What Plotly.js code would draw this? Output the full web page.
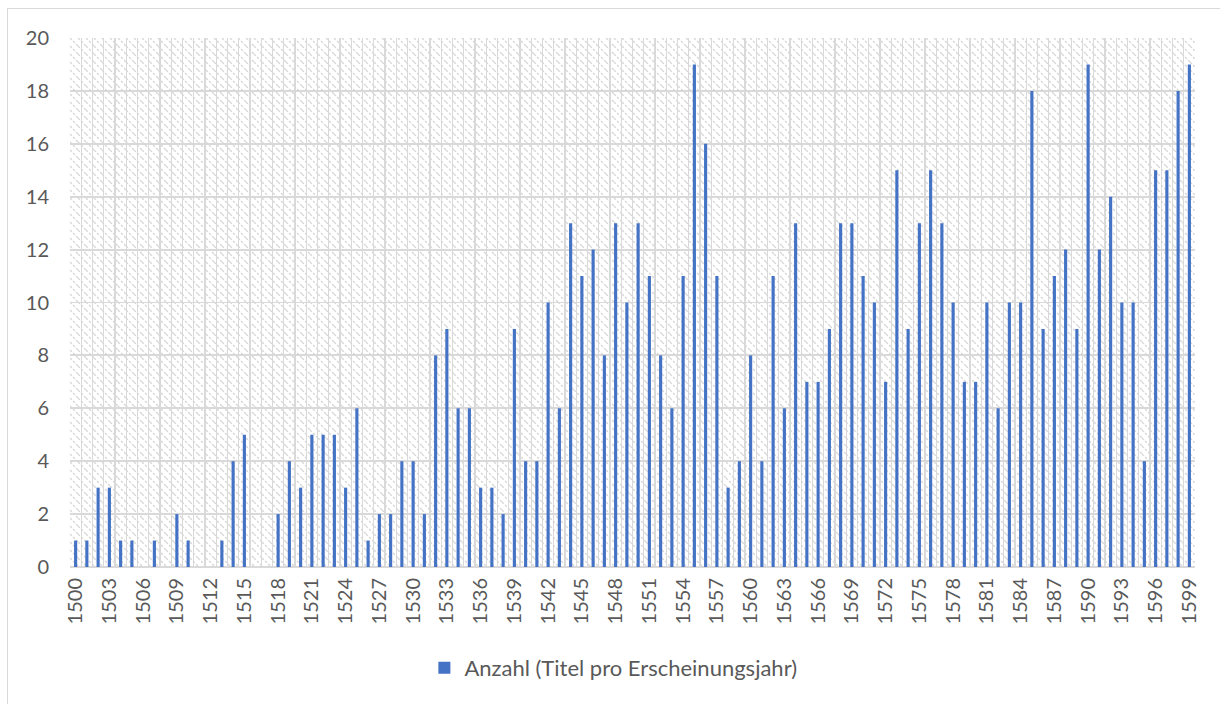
<!DOCTYPE html>
<html>
<head>
<meta charset="utf-8">
<script src="https://cdn.plot.ly/plotly-3.0.1.min.js"></script>
<style>
  html, body { margin: 0; padding: 0; background: #ffffff; }
  #wrap { position: relative; width: 1220px; height: 704px; }
  #chart { width: 1220px; height: 704px; }
  #frame { position: absolute; left: 7px; top: 8px; width: 1300px; height: 800px;
           border-left: 1px solid #d9d9d9; border-top: 1px solid #d9d9d9; pointer-events: none; }
</style>
</head>
<body>
<div id="wrap">
  <div id="chart"></div>
  <div id="frame"></div>
</div>
<script>
// Years (categories)
const years = [];
for (let y = 1500; y <= 1599; y++) years.push(y);

// Number of titles per year of publication
const counts = [
  1, 1, 3, 3, 1, 1, 0, 1, 0, 2,      // 1500-1509
  1, 0, 0, 1, 4, 5, 0, 0, 2, 4,      // 1510-1519
  3, 5, 5, 5, 3, 6, 1, 2, 2, 4,      // 1520-1529
  4, 2, 8, 9, 6, 6, 3, 3, 2, 9,      // 1530-1539
  4, 4, 10, 6, 13, 11, 12, 8, 13, 10, // 1540-1549
  13, 11, 8, 6, 11, 19, 16, 11, 3, 4, // 1550-1559
  8, 4, 11, 6, 13, 7, 7, 9, 13, 13,  // 1560-1569
  11, 10, 7, 15, 9, 13, 15, 13, 10, 7, // 1570-1579
  7, 10, 6, 10, 10, 18, 9, 11, 12, 9, // 1580-1589
  19, 12, 14, 10, 10, 4, 15, 15, 18, 19 // 1590-1599
];

const seriesName = "Anzahl (Titel pro Erscheinungsjahr)";

// Tick labels every third year
const xTickVals = [];
for (let y = 1500; y <= 1599; y += 3) xTickVals.push(y);
const xTickText = xTickVals.map(String);

// Category boundaries for vertical gridlines
const boundaries = [];
for (let y = 1499.5; y <= 1599.5; y += 1) boundaries.push(y);

const plotW = 1125, plotH = 529;
const svg = `<svg xmlns="http://www.w3.org/2000/svg" width="${plotW}" height="${plotH}" viewBox="0 0 ${plotW} ${plotH}" preserveAspectRatio="none">
<defs><pattern id="p" width="8" height="8" patternUnits="userSpaceOnUse">
<path d="M0,0 L8,8 M-4,4 L0,8 M4,-4 L8,0" stroke="#d8d8d8" stroke-width="1.5" stroke-dasharray="2.5,1.8"/>
</pattern></defs>
<rect width="100%" height="100%" fill="#ffffff"/>
<rect width="100%" height="100%" fill="url(#p)"/>
</svg>`;
const bgSrc = "data:image/svg+xml;charset=utf-8," + encodeURIComponent(svg);

const fontFam = "Lato, 'Open Sans', sans-serif";

const trace = {
  type: "bar",
  x: years,
  y: counts,
  name: seriesName,
  marker: { color: "#4472C4" },
  showlegend: true,
  hoverinfo: "x+y"
};

const layout = {
  width: 1220,
  height: 704,
  margin: { l: 70, r: 25, t: 38, b: 137 },
  paper_bgcolor: "#ffffff",
  plot_bgcolor: "rgba(0,0,0,0)",
  bargap: 0.72,
  font: { family: fontFam, size: 20, color: "#595959" },
  xaxis: {
    type: "linear",
    range: [1499.5, 1599.5],
    tickmode: "array",
    tickvals: xTickVals,
    ticktext: xTickText,
    tickangle: -90,
    showgrid: false,
    zeroline: false,
    showline: false,
    ticks: "",
    ticklabelstandoff: 6,
    tickfont: { family: fontFam, size: 20, color: "#595959" },
    minor: { tickmode: "array", tickvals: boundaries, showgrid: true, gridcolor: "#d9d9d9", gridwidth: 1.4, ticks: "" }
  },
  yaxis: {
    range: [0, 20],
    dtick: 2,
    tick0: 0,
    showgrid: true,
    gridcolor: "#d9d9d9",
    gridwidth: 1.8,
    zeroline: true,
    zerolinecolor: "#d9d9d9",
    zerolinewidth: 1.8,
    showline: false,
    ticks: "",
    ticklabelstandoff: 20,
    tickfont: { family: fontFam, size: 20, color: "#595959" }
  },
  legend: {
    orientation: "h",
    x: 0.483, xanchor: "center",
    y: -0.191, yanchor: "middle",
    font: { family: fontFam, size: 22, color: "#595959" },
    itemwidth: 30
  },
  images: [{
    source: bgSrc,
    xref: "paper", yref: "paper",
    x: 0, y: 1, sizex: 1, sizey: 1,
    xanchor: "left", yanchor: "top",
    sizing: "stretch",
    layer: "below"
  }]
};

Plotly.newPlot("chart", [trace], layout, { displayModeBar: false, staticPlot: true });
</script>
</body>
</html>
